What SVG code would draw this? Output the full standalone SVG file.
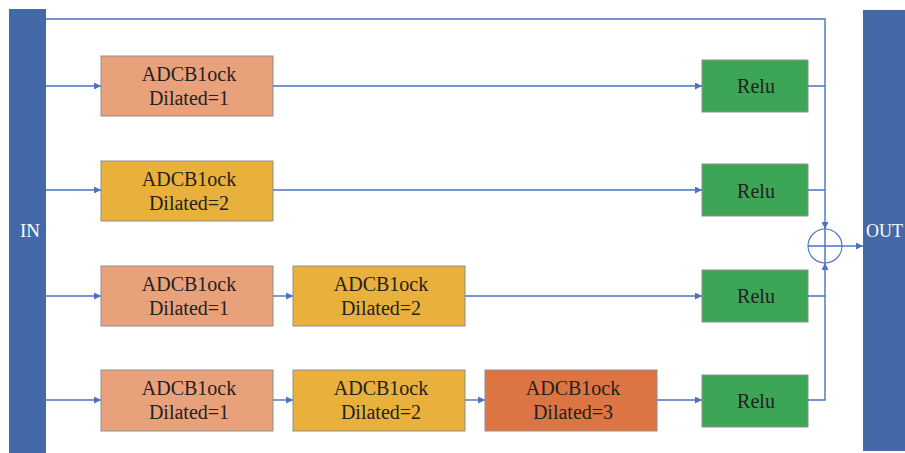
<svg xmlns="http://www.w3.org/2000/svg" width="905" height="453" viewBox="0 0 905 453">
<style>
.bar{fill:#4469A8}
.blk{stroke:#8f8f8f;stroke-width:1}
.c1{fill:#E9A17B}
.c2{fill:#E9B03B}
.c3{fill:#DD7443}
.relu{fill:#3DA556;stroke:#8f8f8f;stroke-width:1}
.t{font-family:"Liberation Serif","Times New Roman",serif;font-size:20px;fill:#222;text-anchor:middle}
.tw{font-family:"Liberation Serif","Times New Roman",serif;font-size:19px;fill:#fff;text-anchor:middle}
.ln{fill:none;stroke:#4A72C0;stroke-width:1.4}
</style>
<defs>
<marker id="ah" viewBox="0 0 10 10" refX="10" refY="5" markerWidth="7" markerHeight="7" markerUnits="userSpaceOnUse" orient="auto">
<path d="M0,0 L10,5 L0,10 z" fill="#4A72C0"/>
</marker>
</defs>
<rect width="905" height="453" fill="#fff"/>
<g id="in"><rect class="bar" x="9" y="9" width="37" height="444"/><text class="tw" x="30" y="237">IN</text></g>
<g id="out"><rect class="bar" x="863" y="10" width="42" height="441"/><text class="tw" x="866" y="237" style="text-anchor:start;font-size:18px">OUT</text></g>
<g id="r1b1"><rect class="blk c1" x="101" y="56" width="172" height="60"/><text class="t" x="189" y="81">ADCB1ock</text><text class="t" x="189" y="105">Dilated=1</text></g>
<g id="r2b1"><rect class="blk c2" x="101" y="161" width="172" height="60"/><text class="t" x="189" y="186">ADCB1ock</text><text class="t" x="189" y="210">Dilated=2</text></g>
<g id="r3b1"><rect class="blk c1" x="101" y="266" width="172" height="60"/><text class="t" x="189" y="291">ADCB1ock</text><text class="t" x="189" y="315">Dilated=1</text></g>
<g id="r3b2"><rect class="blk c2" x="293" y="266" width="172" height="60"/><text class="t" x="381" y="291">ADCB1ock</text><text class="t" x="381" y="315">Dilated=2</text></g>
<g id="r4b1"><rect class="blk c1" x="101" y="370" width="172" height="61"/><text class="t" x="189" y="395">ADCB1ock</text><text class="t" x="189" y="419">Dilated=1</text></g>
<g id="r4b2"><rect class="blk c2" x="293" y="370" width="172" height="61"/><text class="t" x="381" y="395">ADCB1ock</text><text class="t" x="381" y="419">Dilated=2</text></g>
<g id="r4b3"><rect class="blk c3" x="485" y="370" width="172" height="61"/><text class="t" x="573" y="395">ADCB1ock</text><text class="t" x="573" y="419">Dilated=3</text></g>
<g id="relu1"><rect class="relu" x="702" y="60" width="106" height="52"/><text class="t" x="756" y="93">Relu</text></g>
<g id="relu2"><rect class="relu" x="702" y="164" width="106" height="52"/><text class="t" x="756" y="198">Relu</text></g>
<g id="relu3"><rect class="relu" x="702" y="270" width="106" height="52"/><text class="t" x="756" y="303">Relu</text></g>
<g id="relu4"><rect class="relu" x="702" y="375" width="106" height="52"/><text class="t" x="756" y="408">Relu</text></g>
<g id="sum"><circle cx="825" cy="246" r="17" fill="#fff" stroke="#4A72C0" stroke-width="1.2"/><path class="ln" d="M808,246 H842 M825,229 V263" stroke-width="1"/></g>
<g id="connectors">
<path class="ln" d="M46,19 H825 V229" marker-end="url(#ah)"/>
<path class="ln" d="M46,86 H101" marker-end="url(#ah)"/>
<path class="ln" d="M273,86 H702" marker-end="url(#ah)"/>
<path class="ln" d="M46,190 H101" marker-end="url(#ah)"/>
<path class="ln" d="M273,190 H702" marker-end="url(#ah)"/>
<path class="ln" d="M46,296 H101" marker-end="url(#ah)"/>
<path class="ln" d="M273,296 H293" marker-end="url(#ah)"/>
<path class="ln" d="M465,296 H702" marker-end="url(#ah)"/>
<path class="ln" d="M46,400 H101" marker-end="url(#ah)"/>
<path class="ln" d="M273,400 H293" marker-end="url(#ah)"/>
<path class="ln" d="M465,400 H485" marker-end="url(#ah)"/>
<path class="ln" d="M657,400 H702" marker-end="url(#ah)"/>
<path class="ln" d="M808,86 H825 M808,190 H825 M808,296 H825"/>
<path class="ln" d="M808,400 H825 V263" marker-end="url(#ah)"/>
<path class="ln" d="M842,246 H863" marker-end="url(#ah)"/>
</g>
</svg>
